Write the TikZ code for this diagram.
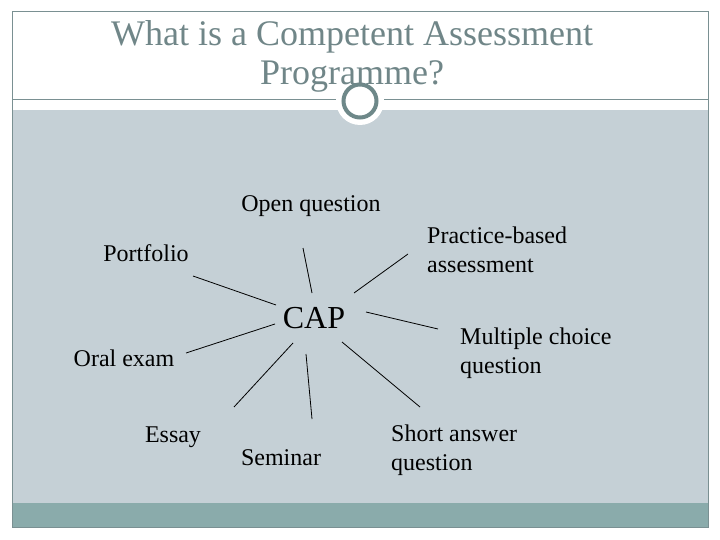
\documentclass[tikz,border=0pt]{standalone}
\usepackage{fontspec}
\setmainfont{Liberation Serif}
\definecolor{framec}{RGB}{122,144,146}
\definecolor{titlec}{RGB}{112,134,136}
\definecolor{panel}{RGB}{197,208,214}
\definecolor{barc}{RGB}{138,171,171}
\definecolor{ringc}{RGB}{110,136,137}
\tikzset{
  lbl/.style={inner sep=0pt, font=\fontsize{24}{29}\selectfont, text=black},
  lblL/.style={lbl, align=left, anchor=west},
  spoke/.style={draw=black, line width=0.8pt},
  titlet/.style={inner sep=0pt, font=\fontsize{36}{39}\selectfont, text=titlec, align=center}
}
\begin{document}
\begin{tikzpicture}[x=1pt,y=-1pt]
\useasboundingbox (0,0) rectangle (720,540);
\fill[white] (0,0) rectangle (720,540);
% panel and bar
\fill[panel] (12,110) rectangle (708,503);
\fill[barc] (12,503) rectangle (708,527);
% frame
\draw[framec, line width=1pt] (12,12) rectangle (708,527);
\draw[framec, line width=1pt] (12,100) -- (708,100);
% circle decoration
\fill[white] (360,101) circle (24);
\draw[ringc, line width=4pt] (360,101) circle (16.5);
% title
\node[titlet] (title) at (352,56) {What is a Competent Assessment\\Programme?};
% labels
\node[lbl, font=\fontsize{32}{36}\selectfont] (cap) at (314,318) {CAP};
\node[lbl] (open) at (311,206) {Open question};
\node[lbl] (port) at (146,253) {Portfolio};
\node[lblL] (prac) at (427,250) {Practice-based\\assessment};
\node[lbl] (oral) at (124,358) {Oral exam};
\node[lblL] (mcq) at (460,353) {Multiple choice\\question};
\node[lbl] (essay) at (173,437) {Essay};
\node[lbl] (sem) at (281,458) {Seminar};
\node[lblL] (short) at (391,450) {Short answer\\question};
% spoke ends
\coordinate (a1) at (193,276); \coordinate (b1) at (276,305);
\coordinate (a2) at (186,353); \coordinate (b2) at (275,324);
\coordinate (a3) at (303,248); \coordinate (b3) at (312,293);
\coordinate (a4) at (408,254); \coordinate (b4) at (354,293);
\coordinate (a5) at (366,312); \coordinate (b5) at (438,329);
\coordinate (a6) at (293,343); \coordinate (b6) at (234,407);
\coordinate (a7) at (306,354); \coordinate (b7) at (312,419);
\coordinate (a8) at (342,342); \coordinate (b8) at (420,407);
\draw[spoke] (a1) -- (b1);
\draw[spoke] (a2) -- (b2);
\draw[spoke] (a3) -- (b3);
\draw[spoke] (a4) -- (b4);
\draw[spoke] (a5) -- (b5);
\draw[spoke] (a6) -- (b6);
\draw[spoke] (a7) -- (b7);
\draw[spoke] (a8) -- (b8);
\end{tikzpicture}
\end{document}
